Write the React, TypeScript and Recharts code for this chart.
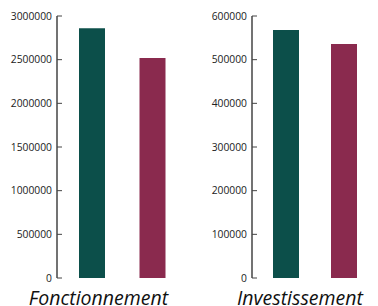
import {Bar, BarChart, Cell, XAxis, YAxis} from 'recharts';

const categories = ['2019', '2020'];
const fonctionnementValues = [2860000, 2520000];
const investissementValues = [568000, 536000];
const fonctionnementTicks = [0, 500000, 1000000, 1500000, 2000000, 2500000, 3000000];
const investissementTicks = [0, 100000, 200000, 300000, 400000, 500000, 600000];
const panelTitles = ['Fonctionnement', 'Investissement'];
const barColors = ['#0c4f4a', '#8a2a4e'];

const axisColor = '#444';
const tickStyle = { fontSize: 10.3, fill: '#222', fontFamily: '"Open Sans", sans-serif' };

interface PanelProps {
  values: number[];
  ticks: number[];
  title: string;
  width: number;
  axisWidth: number;
  left: number;
  titleCenter: number;
  marginRight: number;
}

function Panel({ values, ticks, title, width, axisWidth, left, titleCenter, marginRight }: PanelProps) {
  const data = categories.map((c, i) => ({ name: c, value: values[i] }));
  return (
    <>
      <div style={{ position: 'absolute', left, top: 0 }}>
        <BarChart
          width={width}
          height={306}
          data={data}
          margin={{ top: 16, right: marginRight, left: 0, bottom: 28 }}
          barCategoryGap={17}
        >
          <XAxis
            dataKey="name"
            tick={false}
            tickLine={false}
            height={0}
            axisLine={{ stroke: axisColor, strokeWidth: 1.5 }}
            padding={{ left: 5, right: 5 }}
          />
          <YAxis
            type="number"
            domain={[0, ticks[ticks.length - 1]]}
            ticks={ticks}
            interval={0}
            width={axisWidth}
            tick={tickStyle}
            tickSize={-5}
            tickMargin={10}
            tickLine={{ stroke: axisColor }}
            axisLine={{ stroke: axisColor, strokeWidth: 1.5 }}
          />
          <Bar dataKey="value" barSize={26} isAnimationActive={false}>
            {data.map((d, i) => (
              <Cell key={d.name} fill={barColors[i]} />
            ))}
          </Bar>
        </BarChart>
      </div>
      <div
        style={{
          position: 'absolute',
          left: titleCenter - 90,
          width: 180,
          top: 288,
          textAlign: 'center',
          fontFamily: '"Open Sans", sans-serif',
          fontStyle: 'italic',
          fontSize: 19.5,
          color: '#111',
          whiteSpace: 'nowrap',
          lineHeight: '20px',
        }}
      >
        {title}
      </div>
    </>
  );
}

export default function App() {
  return (
    <div style={{ position: 'absolute', left: 0, top: 0, width: 378, height: 306, background: '#fff', overflow: 'hidden' }}>
      <Panel
        values={fonctionnementValues}
        ticks={fonctionnementTicks}
        title={panelTitles[0]}
        width={190}
        axisWidth={57}
        left={0}
        titleCenter={98.5}
        marginRight={2}
      />
      <Panel
        values={investissementValues}
        ticks={investissementTicks}
        title={panelTitles[1]}
        width={188}
        axisWidth={62}
        left={190}
        titleCenter={300}
        marginRight={0}
      />
    </div>
  );
}
